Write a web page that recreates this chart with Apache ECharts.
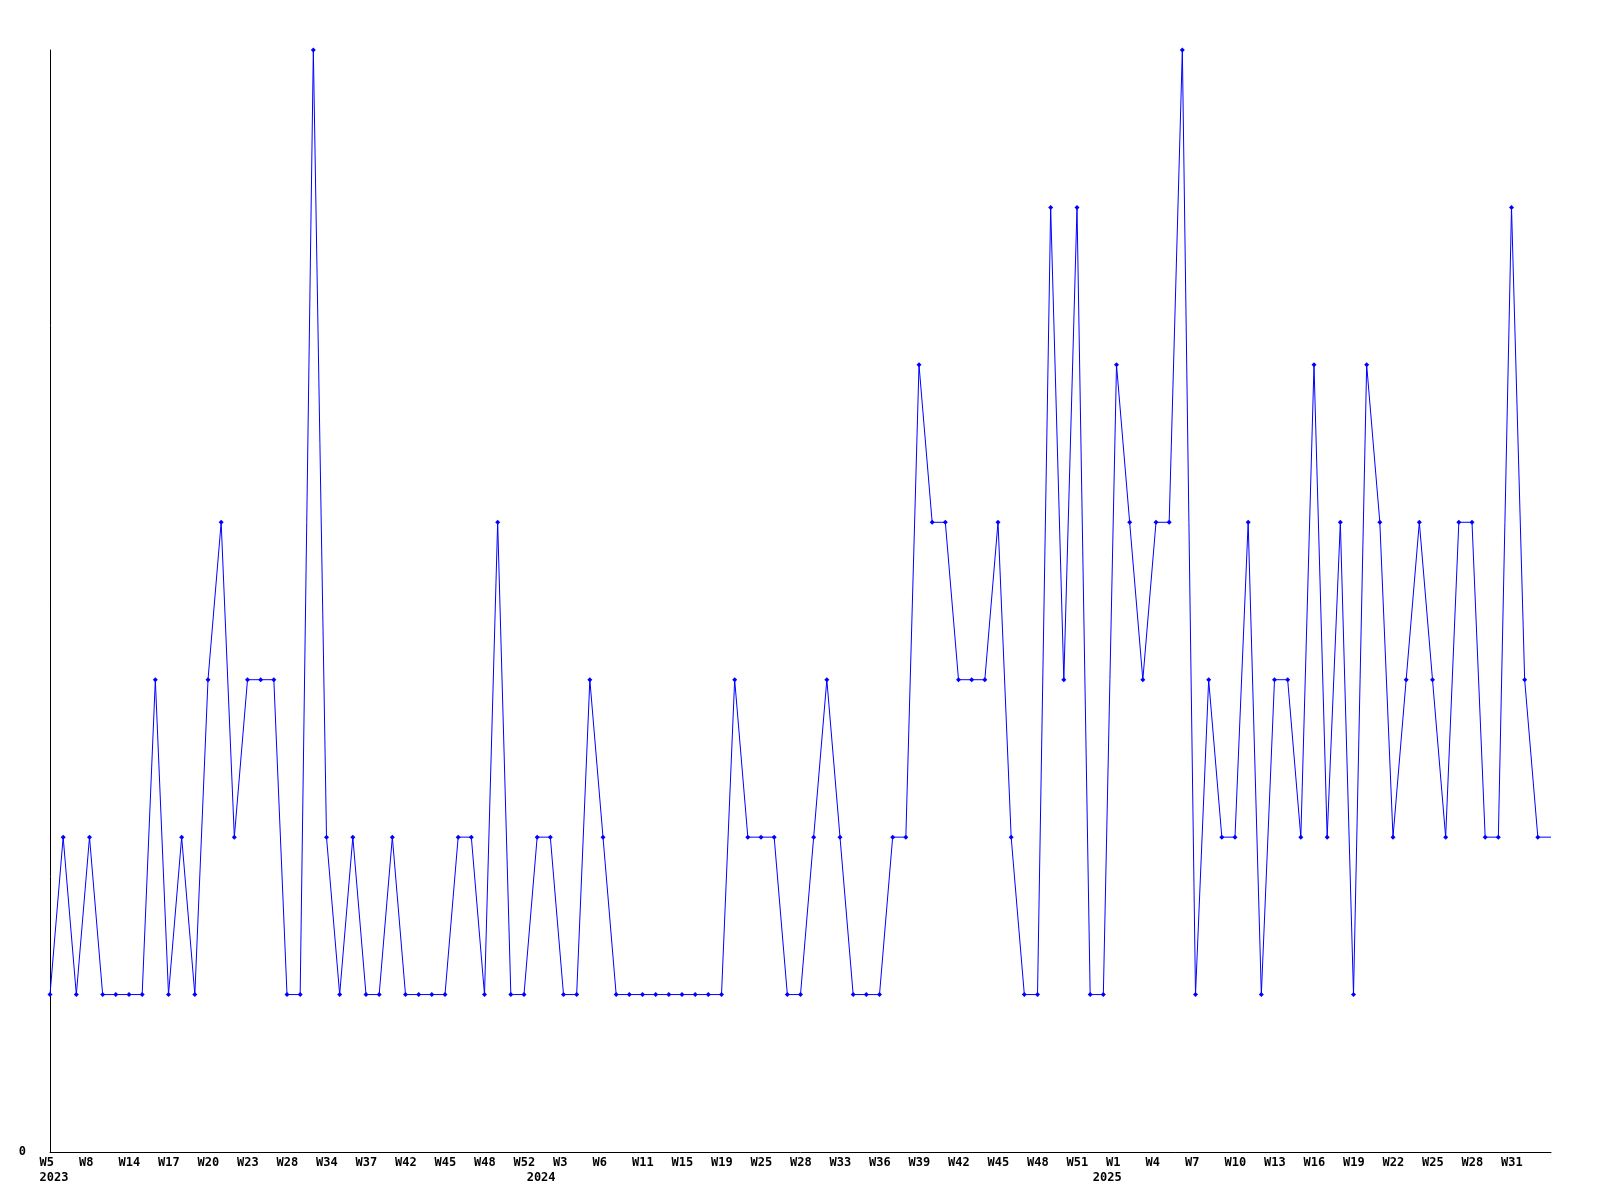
<!DOCTYPE html>
<html>
<head>
<meta charset="utf-8">
<script src="https://cdn.jsdelivr.net/npm/echarts@6/dist/echarts.min.js"></script>
<style>
html,body{margin:0;padding:0;background:#fff;}
#chart{width:1600px;height:1200px;}
</style>
</head>
<body>
<div id="chart"></div>
<script>
// Weeks (year-week), one per data point
const categories = [
  '2023-W5','2023-W6','2023-W7','2023-W8','2023-W10','2023-W12','2023-W14','2023-W15','2023-W16','2023-W17',
  '2023-W18','2023-W19','2023-W20','2023-W21','2023-W22','2023-W23','2023-W25','2023-W26','2023-W28','2023-W30',
  '2023-W32','2023-W34','2023-W35','2023-W36','2023-W37','2023-W39','2023-W40','2023-W42','2023-W43','2023-W44',
  '2023-W45','2023-W46','2023-W47','2023-W48','2023-W50','2023-W51','2023-W52',
  '2024-W1','2024-W2','2024-W3','2024-W4','2024-W5','2024-W6','2024-W8','2024-W10','2024-W11','2024-W13',
  '2024-W14','2024-W15','2024-W16','2024-W18','2024-W19','2024-W21','2024-W23','2024-W25','2024-W26','2024-W27',
  '2024-W28','2024-W30','2024-W31','2024-W33','2024-W34','2024-W35','2024-W36','2024-W37','2024-W38','2024-W39',
  '2024-W40','2024-W41','2024-W42','2024-W43','2024-W44','2024-W45','2024-W46','2024-W47','2024-W48','2024-W49',
  '2024-W50','2024-W51','2024-W52',
  '2025-W0','2025-W1','2025-W2','2025-W3','2025-W4','2025-W5','2025-W6','2025-W7','2025-W8','2025-W9',
  '2025-W10','2025-W11','2025-W12','2025-W13','2025-W14','2025-W15','2025-W16','2025-W17','2025-W18','2025-W19',
  '2025-W20','2025-W21','2025-W22','2025-W23','2025-W24','2025-W25','2025-W26','2025-W27','2025-W28','2025-W29',
  '2025-W30','2025-W31','2025-W32','2025-W33','2025-W34'
];

const values = [
  1,2,1,2,1,1,1,1,3,1,
  2,1,3,4,2,3,3,3,1,1,
  7,2,1,2,1,1,2,1,1,1,
  1,2,2,1,4,1,1,2,2,1,
  1,3,2,1,1,1,1,1,1,1,
  1,1,3,2,2,2,1,1,2,3,
  2,1,1,1,2,2,5,4,4,3,
  3,3,4,2,1,1,6,3,6,1,
  1,5,4,3,4,4,7,1,3,2,
  2,4,1,3,3,2,5,2,4,1,
  5,4,2,3,4,3,2,4,4,2,
  2,6,3,2,2
];

const yTicks = [0];

function isYearStart(i) {
  return i === 0 || categories[i - 1].slice(0, 4) !== categories[i].slice(0, 4);
}
function showWeek(i) {
  return i % 3 === 0 && i < categories.length - 1;
}

const chart = echarts.init(document.getElementById('chart'), null, {renderer: 'canvas'});

const labelFont = {
  fontFamily: 'DejaVu Sans Mono',
  fontWeight: 'bold',
  fontSize: 12,
  color: '#000'
};

const option = {
  animation: false,
  backgroundColor: '#ffffff',
  grid: [
    {left: 50, right: 49, top: 50, bottom: 48, containLabel: false},
    {left: 39.5, right: 59.5, top: 50, bottom: 48, containLabel: false}
  ],
  xAxis: [
    {
      type: 'category',
      gridIndex: 0,
      data: categories,
      boundaryGap: false,
      axisLine: {show: true, lineStyle: {color: '#000', width: 1}},
      axisTick: {show: false},
      axisLabel: {show: false},
      splitLine: {show: false}
    },
    {
      type: 'category',
      gridIndex: 1,
      data: categories,
      boundaryGap: false,
      axisLine: {show: false},
      axisTick: {show: false},
      splitLine: {show: false},
      axisLabel: Object.assign({
        show: true,
        align: 'left',
        margin: 3,
        lineHeight: 15,
        hideOverlap: false,
        interval: function (i) { return showWeek(i) || isYearStart(i); },
        formatter: function (value, i) {
          const parts = value.split('-');
          const top = showWeek(i) ? parts[1] : ' ';
          return isYearStart(i) ? top + '\n' + parts[0] : top;
        }
      }, labelFont)
    }
  ],
  yAxis: [
    {
      type: 'value',
      gridIndex: 0,
      min: 0,
      max: 7,
      interval: 7,
      axisLine: {show: true, lineStyle: {color: '#000', width: 1}},
      axisTick: {show: false},
      splitLine: {show: false},
      axisLabel: Object.assign({
        margin: 24,
        formatter: function (v) { return yTicks.indexOf(v) >= 0 ? String(v) : ''; }
      }, labelFont)
    },
    {
      type: 'value',
      gridIndex: 1,
      min: 0,
      max: 7,
      show: false
    }
  ],
  series: [
    {
      type: 'line',
      xAxisIndex: 0,
      yAxisIndex: 0,
      data: values.map(function (v, i) {
        return i === values.length - 1 ? {value: v, symbol: 'none'} : v;
      }),
      showAllSymbol: true,
      symbol: 'diamond',
      symbolSize: 5,
      lineStyle: {color: '#0000ff', width: 1},
      itemStyle: {color: '#0000ff'},
      emphasis: {disabled: true},
      silent: true
    }
  ]
};

chart.setOption(option);
</script>
</body>
</html>
